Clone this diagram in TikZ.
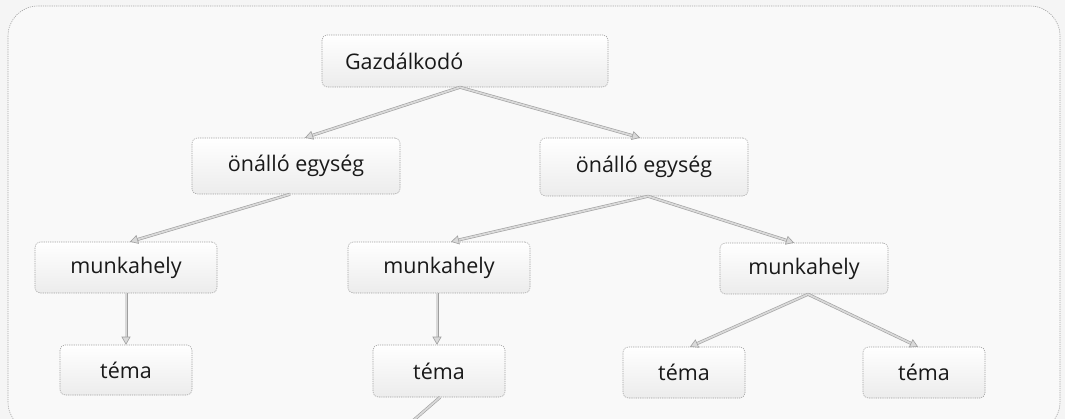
\documentclass[tikz,border=0pt]{standalone}
\usepackage{fontspec}
\setmainfont{Open Sans}
\usetikzlibrary{arrows.meta,calc}
\begin{document}
\begin{tikzpicture}[x=1pt,y=-1pt,
  box/.style={draw=gray!75, dash pattern=on 1.2pt off 1pt, line width=0.55pt,
    rounded corners=5pt, top color=white, bottom color=gray!15,
    inner sep=0pt, font=\fontsize{21.5}{24}\selectfont, text=black!90},
  conn/.style={draw=gray!75, line width=0.6pt, double=gray!30, double distance=1.8pt,
    -{Triangle[length=8pt,width=9pt,fill=gray!30,color=gray!75,line width=0.6pt]}},
  plain/.style={draw=gray!75, line width=0.6pt, double=gray!30, double distance=1.8pt},
  frame/.style={draw=gray!70, dash pattern=on 1.2pt off 1pt, line width=0.6pt, rounded corners=30pt}
]
\useasboundingbox (0,0) rectangle (1065,419);
\clip (0,0) rectangle (1065,419);
\fill[gray!8] (0,0) rectangle (1065,419);
\draw[frame, fill=gray!5] (8,6) rectangle (1060,432);

\node[box, text width=240pt, inner xsep=23pt, align=left, minimum height=52pt] (G) at (465,61) {Gazdálkodó};
\node[box, minimum width=208pt, minimum height=56pt] (O1) at (296,166) {önálló egység};
\node[box, minimum width=208pt, minimum height=58pt] (O2) at (644,167) {önálló egység};
\node[box, minimum width=182pt, minimum height=51pt] (M1) at (126,267.5) {munkahely};
\node[box, minimum width=182pt, minimum height=51pt] (M2) at (439,267.5) {munkahely};
\node[box, minimum width=168pt, minimum height=51pt] (M3) at (804,268.5) {munkahely};
\node[box, minimum width=132pt, minimum height=50pt] (T1) at (126,370) {téma};
\node[box, minimum width=132pt, minimum height=52pt] (T2) at (439,371) {téma};
\node[box, minimum width=122pt, minimum height=51pt] (T3) at (684,372.5) {téma};
\node[box, minimum width=122pt, minimum height=51pt] (T4) at (924,372.5) {téma};
\coordinate (below) at (400,432);

\draw[conn] ([xshift=-5pt]G.south) -- ([xshift=9pt]O1.north);
\draw[conn] ([xshift=-5pt]G.south) -- ([xshift=-4pt]O2.north);
\draw[conn] ([xshift=-6pt]O1.south) -- ([xshift=4pt]M1.north);
\draw[conn] ([xshift=4pt]O2.south) -- ([xshift=12pt]M2.north);
\draw[conn] ([xshift=4pt]O2.south) -- ([xshift=-10pt]M3.north);
\draw[conn] (M1.south) -- (T1.north);
\draw[conn] ([xshift=-2pt]M2.south) -- ([xshift=-2pt]T2.north);
\draw[conn] ([xshift=4pt]M3.south) -- ([xshift=6pt]T3.north);
\draw[conn] ([xshift=4pt]M3.south) -- ([xshift=-6pt]T4.north);
\draw[plain] ([xshift=1pt]T2.south) -- (below);
\end{tikzpicture}
\end{document}
